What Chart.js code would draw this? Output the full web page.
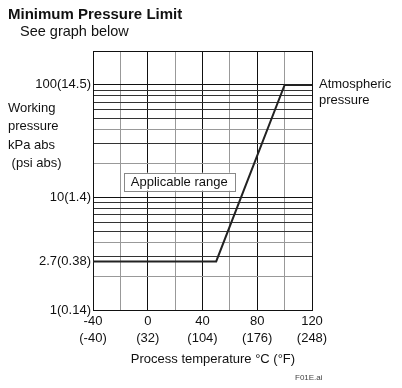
<!DOCTYPE html>
<html>
<head>
<meta charset="utf-8">
<script src="https://cdn.jsdelivr.net/npm/chart.js@4.4.1/dist/chart.umd.min.js"></script>
<style>
  html, body { margin: 0; padding: 0; background: #fff; }
  canvas { display: block; }
</style>
</head>
<body>
<canvas id="chart" width="402" height="388"></canvas>
<script>
// curve of the minimum working pressure
const temps = [-40, 50, 100, 120];
const pressures = [2.7, 2.7, 100, 100];

// axes
const xTicks = [-40, -20, 0, 20, 40, 60, 80, 100, 120];
const xLabels = {
    '-40': ['-40', '(-40)'],
    '0': ['0', '(32)'],
    '40': ['40', '(104)'],
    '80': ['80', '(176)'],
    '120': ['120', '(248)']
};
const yTicks = [1, 2, 2.7, 3, 4, 5, 6, 7, 8, 9, 10, 20, 30, 40, 50, 60, 70, 80, 90, 100, 200];
const yLabels = {
    '1': '1(0.14)',
    '2.7': '2.7(0.38)',
    '10': '10(1.4)',
    '100': '100(14.5)'
};

const FONT = '"Liberation Sans", Arial, sans-serif';

const textPlugin = {
    id: 'texts',
    afterDraw(chart) {
        const ctx = chart.ctx;
        const xs = chart.scales.x;
        const ys = chart.scales.y;
        ctx.save();
        ctx.fillStyle = '#111';
        ctx.textBaseline = 'middle';
        ctx.textAlign = 'left';

        ctx.font = 'bold 15px ' + FONT;
        ctx.fillText('Minimum Pressure Limit', 8, 15);
        ctx.font = '14.5px ' + FONT;
        ctx.fillText('See graph below', 20, 32);

        ctx.font = '13px ' + FONT;
        ['Working', 'pressure', 'kPa abs', ' (psi abs)'].forEach((t, i) => {
            ctx.fillText(t, 8, 108 + i * 18.5);
        });

        // label beside the flat top of the curve
        const yAtm = ys.getPixelForValue(pressures[3]);
        ctx.fillText('Atmospheric', xs.right + 7, yAtm);
        ctx.fillText('pressure', xs.right + 7, yAtm + 16);

        // x axis title
        ctx.textAlign = 'center';
        ctx.fillText('Process temperature °C (°F)', 213, 359);

        // boxed label in the plot
        const bx = xs.getPixelForValue(23);
        const by = ys.getPixelForValue(13.8);
        const label = 'Applicable range';
        const w = ctx.measureText(label).width + 14;
        ctx.fillStyle = '#fff';
        ctx.fillRect(bx - w / 2, by - 9, w, 18);
        ctx.strokeStyle = '#888';
        ctx.lineWidth = 1;
        ctx.strokeRect(Math.round(bx - w / 2) + 0.5, Math.round(by - 9) + 0.5, Math.round(w), 18);
        ctx.fillStyle = '#111';
        ctx.fillText(label, bx, by + 0.5);

        ctx.font = '8px ' + FONT;
        ctx.textAlign = 'left';
        ctx.fillStyle = '#444';
        ctx.fillText('F01E.ai', 295, 378);
        ctx.restore();
    }
};

new Chart(document.getElementById('chart'), {
    type: 'line',
    data: {
        datasets: [{
            data: temps.map((t, i) => ({ x: t, y: pressures[i] })),
            borderColor: '#222',
            borderWidth: 2,
            pointRadius: 0,
            tension: 0,
            fill: false
        }]
    },
    plugins: [textPlugin],
    options: {
        responsive: false,
        animation: false,
        devicePixelRatio: 1,
        layout: { padding: { top: 51, right: 90, left: 0, bottom: 0 } },
        plugins: {
            legend: { display: false },
            tooltip: { enabled: false },
            title: { display: false }
        },
        scales: {
            x: {
                type: 'linear',
                min: -40,
                max: 120,
                afterBuildTicks: scale => { scale.ticks = xTicks.map(v => ({ value: v })); },
                afterFit: scale => { scale.height = 78; },
                ticks: {
                    autoSkip: false,
                    maxRotation: 0,
                    padding: 3,
                    color: '#111',
                    font: { family: FONT, size: 13, lineHeight: 1.3 },
                    callback: v => xLabels[String(v)] || ''
                },
                grid: {
                    drawTicks: false,
                    color: ctx => (ctx.tick && ctx.tick.value % 40 === 0) ? '#111' : '#999',
                    lineWidth: 1
                },
                border: { color: '#111', width: 1 }
            },
            y: {
                type: 'logarithmic',
                min: 1,
                max: 200,
                afterBuildTicks: scale => { scale.ticks = yTicks.map(v => ({ value: v })); },
                afterFit: scale => { scale.width = 93; },
                ticks: {
                    autoSkip: false,
                    padding: 2,
                    color: '#111',
                    font: { family: FONT, size: 13 },
                    callback: v => yLabels[String(v)] || ''
                },
                grid: {
                    drawTicks: false,
                    color: ctx => {
                        const v = ctx.tick ? ctx.tick.value : 0;
                        if (v === 2.7) return 'rgba(0,0,0,0)';
                        if ([1, 10, 100, 200].includes(v)) return '#111';
                        if (v === 2 || v === 20 || v === 4 || v === 40) return '#999';
                        return '#333';
                    },
                    lineWidth: 1
                },
                border: { color: '#111', width: 1 }
            }
        }
    }
});
</script>
</body>
</html>
